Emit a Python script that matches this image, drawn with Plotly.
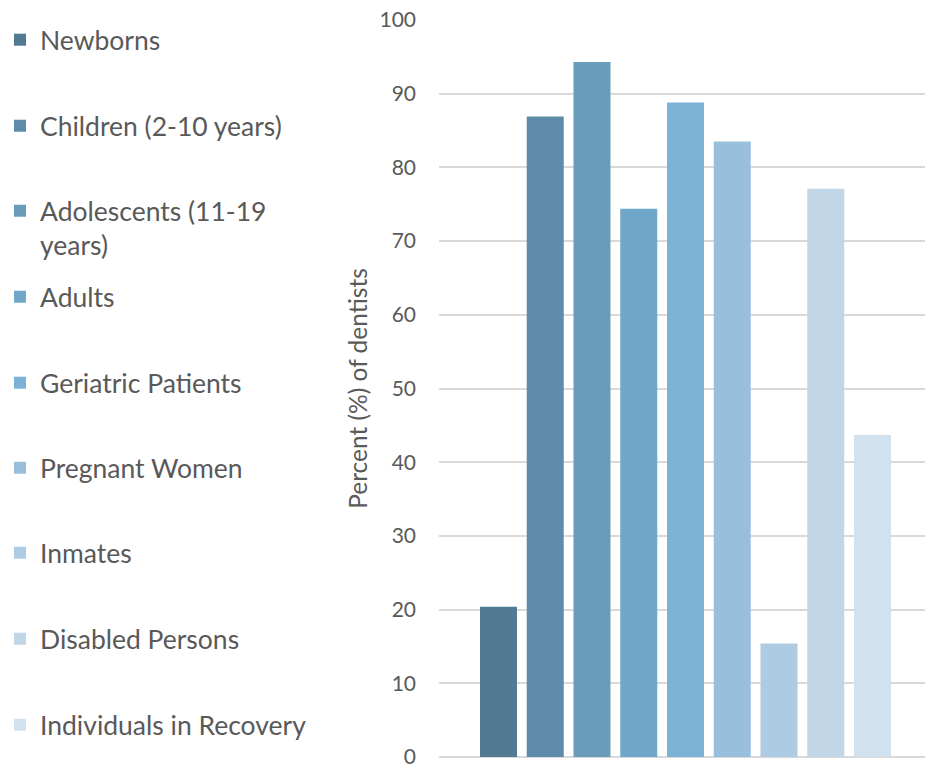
import plotly.graph_objects as go

categories = ["Newborns", "Children (2-10 years)", "Adolescents (11-19<br>years)", "Adults",
              "Geriatric Patients", "Pregnant Women", "Inmates", "Disabled Persons",
              "Individuals in Recovery"]
values = [20.4, 86.9, 94.3, 74.4, 88.8, 83.5, 15.4, 77.1, 43.7]
colors = ["#527A93", "#5E8BAA", "#699CBB", "#70A6C8", "#7CB2D6", "#98BFDC",
          "#ADCBE2", "#C1D6E7", "#D2E1EE"]
y_ticks = [0, 10, 20, 30, 40, 50, 60, 70, 80, 90, 100]

FONT = "Lato"
TEXT = "#595959"
W, H = 925, 764
ML, MR, MT, MB = 439, 0, 20, 7
plot_w = W - ML - MR
plot_h = H - MT - MB

# legend item vertical centres (px from top)
legend_px = [40, 126, 228, 297, 383, 468, 553, 639, 725]

fig = go.Figure()
for i, (name, v, c) in enumerate(zip(categories, values, colors)):
    lg = "legend" if i == 0 else f"legend{i+1}"
    fig.add_trace(go.Bar(x=[""], y=[v], name=name, marker=dict(color=c, line=dict(width=0)),
                         legend=lg, hoverinfo="name+y"))

layout_legends = {}
for i, ypx in enumerate(legend_px):
    key = "legend" if i == 0 else f"legend{i+1}"
    layout_legends[key] = dict(
        x=(0 - ML) / plot_w, xanchor="left",
        y=(H - MB - ypx) / plot_h, yanchor="middle",
        font=dict(family=FONT, size=26.5, color=TEXT),
        bgcolor="rgba(0,0,0,0)", borderwidth=0,
        itemclick=False, itemdoubleclick=False,
        valign="top",
    )

fig.update_layout(
    width=W, height=H,
    margin=dict(l=ML, r=MR, t=MT, b=MB, pad=0, autoexpand=False),
    paper_bgcolor="white", plot_bgcolor="white",
    barmode="group", bargap=0.1465, bargroupgap=0.2086,
    showlegend=True,
    **layout_legends,
)
fig.update_xaxes(showticklabels=False, showgrid=False, zeroline=False, showline=False,
                 range=[-0.5, -0.5 + plot_w / 493.0], fixedrange=True)
fig.update_yaxes(range=[0, 100], tickvals=y_ticks, showgrid=True, gridcolor="#D9D9D9",
                 gridwidth=1.5, zeroline=True, zerolinecolor="#D9D9D9", zerolinewidth=1.5,
                 showline=False, ticks="", ticklabelstandoff=22, ticklabeloverflow="allow",
                 tickfont=dict(family=FONT, size=21, color=TEXT),
                 title=dict(text="Percent (%) of dentists", standoff=4,
                            font=dict(family=FONT, size=24.5, color=TEXT)),
                 fixedrange=True)

fig.write_html("out.html", config={"displayModeBar": False},
               post_script="document.body.style.margin='0';")
